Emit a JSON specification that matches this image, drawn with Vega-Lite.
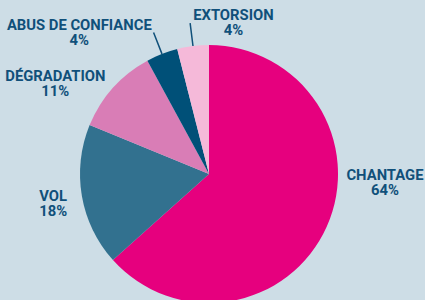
{
  "$schema": "https://vega.github.io/schema/vega-lite/v6.json",
  "width": 418,
  "height": 252,
  "padding": {"left": 0, "top": 48, "right": 7, "bottom": 0},
  "autosize": {"type": "none"},
  "background": "#cddde6",
  "config": {"view": {"stroke": null}},
  "data": {
    "values": [
      {"cat": "CHANTAGE", "value": 64, "order": 1},
      {"cat": "VOL", "value": 18, "order": 2},
      {"cat": "DÉGRADATION", "value": 11, "order": 3},
      {"cat": "ABUS DE CONFIANCE", "value": 4, "order": 4},
      {"cat": "EXTORSION", "value": 4, "order": 5}
    ]
  },
  "transform": [
    {"stack": "value", "groupby": [], "sort": [{"field": "order", "order": "ascending"}], "as": ["s0", "s1"]},
    {"calculate": "(datum.s0 + datum.s1) / 2", "as": "mid"},
    {"calculate": "datum.cat + '\\n' + datum.value + '%'", "as": "label"}
  ],
  "layer": [
    {
      "mark": {"type": "arc", "radius": 129},
      "encoding": {
        "theta": {"field": "s0", "type": "quantitative", "scale": {"domain": [0, 101]}},
        "theta2": {"field": "s1"},
        "color": {
          "field": "cat",
          "type": "nominal",
          "scale": {
            "domain": ["CHANTAGE", "VOL", "DÉGRADATION", "ABUS DE CONFIANCE", "EXTORSION"],
            "range": ["#e6007e", "#32718f", "#d97db6", "#005078", "#f5b9d9"]
          },
          "legend": null
        }
      }
    },
    {
      "transform": [{"filter": "datum.cat === 'ABUS DE CONFIANCE' || datum.cat === 'EXTORSION'"}],
      "mark": {"type": "arc", "radius": 152, "radius2": 129, "filled": false, "stroke": "#10507a", "strokeWidth": 1.5},
      "encoding": {
        "theta": {"field": "mid", "type": "quantitative", "scale": {"domain": [0, 101]}},
        "theta2": {"field": "mid"}
      }
    },
    {
      "transform": [{"filter": "datum.cat === 'CHANTAGE'"}],
      "mark": {"type": "text", "radius": 150, "dx": 39, "dy": -59, "lineBreak": "\n", "font": "Roboto", "fontSize": 14.8, "fontWeight": "bold", "fill": "#10507a", "align": "center", "baseline": "middle", "lineHeight": 15},
      "encoding": {
        "theta": {"field": "mid", "type": "quantitative", "scale": {"domain": [0, 101]}},
        "text": {"field": "label"}
      }
    },
    {
      "transform": [{"filter": "datum.cat === 'VOL'"}],
      "mark": {"type": "text", "radius": 150, "dx": -8, "dy": -3, "lineBreak": "\n", "font": "Roboto", "fontSize": 14.8, "fontWeight": "bold", "fill": "#10507a", "align": "center", "baseline": "middle", "lineHeight": 15},
      "encoding": {
        "theta": {"field": "mid", "type": "quantitative", "scale": {"domain": [0, 101]}},
        "text": {"field": "label"}
      }
    },
    {
      "transform": [{"filter": "datum.cat === 'DÉGRADATION'"}],
      "mark": {"type": "text", "radius": 150, "dx": -42, "dy": 3, "lineBreak": "\n", "font": "Roboto", "fontSize": 14.8, "fontWeight": "bold", "fill": "#10507a", "align": "center", "baseline": "middle", "lineHeight": 15},
      "encoding": {
        "theta": {"field": "mid", "type": "quantitative", "scale": {"domain": [0, 101]}},
        "text": {"field": "label"}
      }
    },
    {
      "transform": [{"filter": "datum.cat === 'ABUS DE CONFIANCE'"}],
      "mark": {"type": "text", "radius": 150, "dx": -75, "dy": -8, "lineBreak": "\n", "font": "Roboto", "fontSize": 14.8, "fontWeight": "bold", "fill": "#10507a", "align": "center", "baseline": "middle", "lineHeight": 15},
      "encoding": {
        "theta": {"field": "mid", "type": "quantitative", "scale": {"domain": [0, 101]}},
        "text": {"field": "label"}
      }
    },
    {
      "transform": [{"filter": "datum.cat === 'EXTORSION'"}],
      "mark": {"type": "text", "radius": 150, "dx": 43, "dy": -9, "lineBreak": "\n", "font": "Roboto", "fontSize": 14.8, "fontWeight": "bold", "fill": "#10507a", "align": "center", "baseline": "middle", "lineHeight": 15},
      "encoding": {
        "theta": {"field": "mid", "type": "quantitative", "scale": {"domain": [0, 101]}},
        "text": {"field": "label"}
      }
    }
  ]
}
